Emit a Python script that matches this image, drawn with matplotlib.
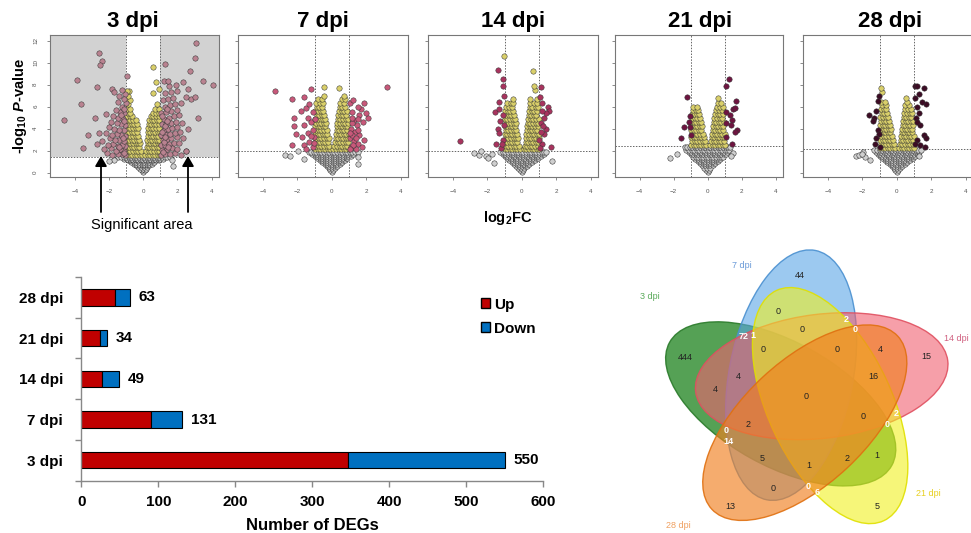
import matplotlib
matplotlib.use("Agg")
import matplotlib.pyplot as plt
from matplotlib.patches import Ellipse, Patch, FancyArrowPatch
import numpy as np

plt.rcParams['font.family'] = ['Liberation Sans', 'DejaVu Sans']
plt.rcParams['mathtext.fontset'] = 'custom'
plt.rcParams['mathtext.rm'] = 'Liberation Sans'
plt.rcParams['mathtext.it'] = 'Liberation Sans:italic'
plt.rcParams['mathtext.bf'] = 'Liberation Sans:bold'
plt.rcParams['mathtext.bfit'] = 'Liberation Sans:bold:italic'

# ================= data: volcano plots (log2FC, -log10 P) =================
PANELS = ['3 dpi', '7 dpi', '14 dpi', '21 dpi', '28 dpi']
THRESH = [1.45, 2.0, 2.0, 2.42, 2.15]

# rows of points: (y, [x, x, ...])
GREY_ROWS_3 = [(0.05, [0.0]), (0.2, [-0.1, 0.08]), (0.35, [-0.18, 0.0, 0.15]), (0.5, [-0.3, -0.12, 0.05, 0.22]),
               (0.65, [-0.4, -0.25, -0.1, 0.05, 0.2, 0.35]),
               (0.8, [-0.55, -0.4, -0.25, -0.1, 0.05, 0.2, 0.35, 0.5]),
               (0.95, [-0.7, -0.55, -0.4, -0.25, -0.1, 0.05, 0.2, 0.35, 0.5, 0.65]),
               (1.1, [-0.9, -0.75, -0.6, -0.45, -0.3, -0.15, 0.0, 0.15, 0.3, 0.45, 0.6, 0.75, 0.9]),
               (1.25, [-1.1, -0.95, -0.8, -0.65, -0.5, -0.35, -0.2, -0.05, 0.1, 0.25, 0.4, 0.55, 0.7, 0.85, 1.0, 1.15]),
               (1.38, [-1.45, -1.3, -1.15, -1.0, -0.85, -0.7, -0.55, -0.4, -0.25, -0.1, 0.05, 0.2, 0.35, 0.5, 0.65,
                       0.8, 0.95, 1.1, 1.25, 1.4, 1.55]),
               (1.15, [-1.7, 1.7]), (1.05, [-2.0]), (0.6, [1.75])]
YEL_ROWS_3 = [(1.6, [-0.95, -0.8, -0.65, -0.5, -0.35, -0.2, -0.08, 0.1, 0.25, 0.4, 0.55, 0.7, 0.85, 0.98]),
              (1.95, [-0.9, -0.75, -0.6, -0.45, -0.3, -0.15, 0.18, 0.33, 0.48, 0.63, 0.78, 0.93]),
              (2.3, [-0.97, -0.82, -0.67, -0.52, -0.37, -0.22, 0.2, 0.35, 0.5, 0.65, 0.8, 0.95]),
              (2.65, [-0.9, -0.75, -0.6, -0.45, -0.3, -0.17, 0.25, 0.4, 0.55, 0.7, 0.85, 0.98]),
              (3.0, [-0.97, -0.82, -0.67, -0.52, -0.37, -0.23, 0.22, 0.37, 0.52, 0.67, 0.82, 0.95]),
              (3.35, [-0.9, -0.75, -0.6, -0.45, -0.3, 0.28, 0.43, 0.58, 0.73, 0.88]),
              (3.7, [-0.97, -0.82, -0.67, -0.52, -0.37, 0.25, 0.4, 0.55, 0.7, 0.85, 0.98]),
              (4.05, [-0.9, -0.75, -0.6, -0.45, -0.32, 0.3, 0.45, 0.6, 0.75, 0.9]),
              (4.4, [-0.97, -0.82, -0.67, -0.52, -0.38, 0.32, 0.47, 0.62, 0.77, 0.92]),
              (4.75, [-0.9, -0.75, -0.6, -0.45, 0.35, 0.5, 0.65, 0.8, 0.95]),
              (5.1, [-0.95, -0.8, -0.65, 0.45, 0.6, 0.75, 0.9]),
              (5.45, [-0.9, -0.75, 0.55, 0.75, 0.92]), (5.8, [-0.95, -0.8, 0.7, 0.9]), (6.2, [-0.9, 0.8]),
              (6.6, [-0.95, -0.8]), (7.0, [-0.9]), (7.2, [0.6]), (7.45, [-0.85, -0.97]), (7.6, [0.9]),
              (8.2, [0.75]), (9.6, [0.58])]
SIG_3 = [(-1.05,1.6),(-1.25,1.7),(-1.5,1.65),(-1.8,1.6),(-2.1,1.75),(-1.1,2.0),(-1.35,2.1),(-1.6,2.0),(-1.9,2.2),
         (-2.3,2.1),(-1.05,2.4),(-1.25,2.5),(-1.5,2.45),(-1.75,2.6),(-2.05,2.5),(-1.15,2.9),(-1.4,2.95),(-1.65,3.0),
         (-1.95,3.1),(-2.4,2.9),(-1.05,3.35),(-1.3,3.4),(-1.55,3.5),(-1.85,3.45),(-2.2,3.6),(-1.15,3.85),(-1.4,3.9),
         (-1.7,4.0),(-2.0,4.1),(-1.05,4.3),(-1.3,4.4),(-1.55,4.5),(-1.9,4.6),(-1.2,4.9),(-1.45,5.0),(-1.75,5.1),
         (-1.1,5.4),(-1.35,5.5),(-1.6,5.7),(-1.25,6.0),(-1.0,6.3),(-1.5,6.4),(-1.4,7.0),(-1.8,7.6),(-1.7,7.3),
         (-0.97,8.8),(-2.4,10.1),(-2.5,9.8),(-2.6,10.9),(-2.7,7.8),(-3.9,8.4),(-3.64,6.2),(-2.83,5.0),(-4.64,4.8),
         (-3.2,3.4),(-2.6,3.6),(-3.55,2.2),(-2.7,2.6),(-2.2,5.3),(-1.15,1.8),(-1.4,2.3),(-1.2,3.15),(-1.1,4.65),
         (-1.3,5.2),(-1.15,5.75),(-1.05,7.1),(-1.25,7.5),(-1.1,6.7),
         (1.05,1.6),(1.3,1.7),(1.55,1.65),(1.85,1.75),(2.2,1.6),(2.5,2.0),(1.1,2.05),(1.4,2.1),(1.7,2.2),(2.0,2.15),
         (1.05,2.5),(1.25,2.55),(1.5,2.6),(1.8,2.65),(2.1,2.7),(1.15,3.0),(1.4,3.05),(1.65,3.1),(1.95,3.2),(2.3,3.1),
         (1.05,3.45),(1.3,3.5),(1.55,3.55),(1.85,3.6),(2.15,3.7),(1.2,3.9),(1.45,4.0),(1.7,4.05),(2.0,4.1),(2.6,4.0),
         (1.1,4.4),(1.35,4.45),(1.6,4.5),(1.9,4.6),(2.25,4.5),(1.2,4.9),(1.5,5.0),(1.8,5.1),(2.1,5.2),(1.05,5.4),
         (1.35,5.5),(1.65,5.6),(2.0,5.7),(1.25,6.0),(1.55,6.1),(1.85,6.2),(2.2,6.3),(1.15,6.6),(1.45,6.7),(1.75,6.8),
         (2.5,6.9),(2.8,6.7),(3.0,6.9),(1.3,7.2),(1.65,7.3),(2.0,7.4),(2.6,7.6),(1.5,7.9),(1.9,8.0),(1.2,8.3),
         (2.3,8.2),(3.5,8.3),(4.1,8.0),(1.46,8.3),(1.27,9.9),(2.75,9.2),(3.0,10.4),(3.1,11.8),(3.2,5.0),(2.5,2.0),
         (1.15,1.85),(1.45,2.35),(1.2,2.75),(1.3,3.25),(1.1,3.7),(1.25,4.2),(1.4,4.7),(1.1,5.15),(1.4,5.75)]

GREY_ROWS_7 = [(0.05, [0.0]), (0.22, [-0.08, 0.08]), (0.4, [-0.18, 0.0, 0.16]),
               (0.58, [-0.3, -0.14, 0.02, 0.18, 0.32]), (0.76, [-0.42, -0.27, -0.12, 0.03, 0.18, 0.33, 0.46]),
               (0.94, [-0.55, -0.4, -0.25, -0.1, 0.05, 0.2, 0.35, 0.5, 0.6]),
               (1.12, [-0.7, -0.55, -0.4, -0.25, -0.1, 0.05, 0.2, 0.35, 0.5, 0.65, 0.75]),
               (1.3, [-0.85, -0.7, -0.55, -0.4, -0.25, -0.1, 0.05, 0.2, 0.35, 0.5, 0.65, 0.8, 0.9]),
               (1.48, [-1.0, -0.85, -0.7, -0.55, -0.4, -0.25, -0.1, 0.05, 0.2, 0.35, 0.5, 0.65, 0.8, 0.95, 1.1]),
               (1.66, [-1.15, -1.0, -0.85, -0.7, -0.55, -0.4, -0.25, -0.1, 0.05, 0.2, 0.35, 0.5, 0.65, 0.8, 0.95,
                       1.1, 1.25]),
               (1.84, [-1.35, -1.2, -1.05, -0.9, -0.75, -0.6, -0.45, -0.3, -0.15, 0.0, 0.15, 0.3, 0.45, 0.6, 0.75,
                       0.9, 1.05, 1.2, 1.35, 1.5]),
               (1.57, [-2.72]), (1.5, [-2.45]), (1.95, [-1.95]), (1.2, [-1.6]), (0.8, [1.55]), (1.4, [1.5])]
YEL_ROWS_7 = [(2.1, [-0.97, -0.82, -0.67, -0.52, -0.37, -0.22, -0.08, 0.1, 0.25, 0.4, 0.55, 0.7, 0.85, 0.98]),
              (2.45, [-0.9, -0.75, -0.6, -0.45, -0.3, -0.15, 0.15, 0.3, 0.45, 0.6, 0.75, 0.9]),
              (2.8, [-0.97, -0.82, -0.67, -0.52, -0.37, -0.22, 0.2, 0.35, 0.5, 0.65, 0.8, 0.95]),
              (3.15, [-0.9, -0.75, -0.6, -0.45, -0.3, -0.18, 0.22, 0.37, 0.52, 0.67, 0.82, 0.97]),
              (3.5, [-0.97, -0.82, -0.67, -0.52, -0.37, -0.25, 0.25, 0.4, 0.55, 0.7, 0.85, 0.98]),
              (3.85, [-0.9, -0.75, -0.6, -0.45, -0.3, 0.28, 0.43, 0.58, 0.73, 0.88]),
              (4.2, [-0.97, -0.82, -0.67, -0.52, -0.37, 0.3, 0.45, 0.6, 0.75, 0.9]),
              (4.55, [-0.9, -0.75, -0.6, -0.45, -0.33, 0.33, 0.48, 0.63, 0.78, 0.93]),
              (4.9, [-0.95, -0.8, -0.65, -0.5, -0.38, 0.35, 0.5, 0.65, 0.8, 0.95]),
              (5.25, [-0.88, -0.73, -0.58, -0.43, 0.38, 0.53, 0.68, 0.83]),
              (5.6, [-0.95, -0.8, -0.65, -0.5, 0.42, 0.57, 0.72, 0.88]),
              (5.95, [-0.88, -0.72, -0.57, 0.45, 0.6, 0.78]), (6.3, [-0.9, -0.7, -0.5, 0.5, 0.7]),
              (6.7, [-0.8, -0.55, 0.6, 0.75]), (7.0, [-0.45, 0.7]), (7.8, [-0.48]), (7.7, [0.44])]
SIG_7 = [(-3.3,7.4),(-2.3,6.7),(-1.63,6.9),(-1.19,7.6),(-2.2,5.0),(-2.2,4.2),(-2.1,3.5),(-2.3,2.5),(-1.8,5.6),
         (-1.5,5.9),(-1.3,6.2),(-1.1,5.5),(-1.4,5.0),(-1.2,4.6),(-1.6,4.3),(-1.1,3.9),(-1.4,3.6),(-1.05,3.2),
         (-1.3,2.8),(-1.6,2.5),(-1.1,2.3),(-1.5,2.1),(-1.75,3.2),(-1.0,4.9),(-1.2,3.3),(-1.05,2.7),
         (3.2,7.8),(1.9,6.3),(2.08,5.0),(1.7,5.8),(1.5,6.0),(1.2,5.5),(1.3,4.8),(1.05,6.3),(1.25,6.6),(1.6,5.2),
         (1.8,4.6),(1.45,4.3),(1.1,4.0),(1.35,3.7),(1.6,3.4),(1.05,3.1),(1.3,2.9),(1.55,2.6),(1.1,2.3),(1.4,2.1),
         (1.75,2.3),(1.9,3.0),(1.2,3.4),(1.5,4.9),(2.0,5.4),(1.15,4.5),(1.4,3.15),(1.25,2.5),(1.05,3.6),(1.55,3.9),
         (1.2,5.0),(1.05,2.15)]

GREY_ROWS_14 = [(0.05, [0.0]), (0.22, [-0.1, 0.06]), (0.4, [-0.2, -0.02, 0.15]),
                (0.58, [-0.32, -0.16, 0.0, 0.16, 0.3]), (0.76, [-0.45, -0.3, -0.15, 0.0, 0.15, 0.3, 0.44]),
                (0.94, [-0.58, -0.43, -0.28, -0.13, 0.02, 0.17, 0.32, 0.47, 0.6]),
                (1.12, [-0.72, -0.57, -0.42, -0.27, -0.12, 0.03, 0.18, 0.33, 0.48, 0.63, 0.75]),
                (1.3, [-0.85, -0.7, -0.55, -0.4, -0.25, -0.1, 0.05, 0.2, 0.35, 0.5, 0.65, 0.8, 0.92]),
                (1.48, [-0.98, -0.83, -0.68, -0.53, -0.38, -0.23, -0.08, 0.07, 0.22, 0.37, 0.52, 0.67, 0.82, 0.97,
                        1.1]),
                (1.66, [-1.1, -0.95, -0.8, -0.65, -0.5, -0.35, -0.2, -0.05, 0.1, 0.25, 0.4, 0.55, 0.7, 0.85, 1.0,
                        1.15, 1.28]),
                (1.84, [-1.25, -1.1, -0.95, -0.8, -0.65, -0.5, -0.35, -0.2, -0.05, 0.1, 0.25, 0.4, 0.55, 0.7, 0.85,
                        1.0, 1.15, 1.3, 1.42]),
                (1.8, [-2.75]), (1.6, [-2.46]), (1.5, [-2.08]), (1.3, [-1.98]), (1.7, [-1.73]), (2.0, [-2.35]),
                (0.9, [-1.6]), (1.06, [1.77])]
YEL_ROWS_14 = [(2.1, [-1.0, -0.85, -0.7, -0.55, -0.4, -0.25, -0.1, 0.12, 0.27, 0.42, 0.57, 0.72, 0.87, 1.0]),
               (2.45, [-0.93, -0.78, -0.63, -0.48, -0.33, -0.18, 0.17, 0.32, 0.47, 0.62, 0.77, 0.92]),
               (2.8, [-1.0, -0.85, -0.7, -0.55, -0.4, -0.25, 0.22, 0.37, 0.52, 0.67, 0.82, 0.97]),
               (3.15, [-0.93, -0.78, -0.63, -0.48, -0.33, -0.2, 0.25, 0.4, 0.55, 0.7, 0.85, 1.0]),
               (3.5, [-1.0, -0.85, -0.7, -0.55, -0.4, -0.27, 0.27, 0.42, 0.57, 0.72, 0.87, 0.98]),
               (3.85, [-0.93, -0.78, -0.63, -0.48, -0.33, 0.3, 0.45, 0.6, 0.75, 0.9]),
               (4.2, [-1.0, -0.85, -0.7, -0.55, -0.4, 0.32, 0.47, 0.62, 0.77, 0.92]),
               (4.55, [-0.93, -0.78, -0.63, -0.48, -0.35, 0.35, 0.5, 0.65, 0.8, 0.95]),
               (4.9, [-0.98, -0.83, -0.68, -0.53, -0.4, 0.38, 0.53, 0.68, 0.83, 0.98]),
               (5.25, [-0.9, -0.75, -0.6, -0.45, 0.4, 0.55, 0.7, 0.85]),
               (5.6, [-0.97, -0.82, -0.67, -0.52, 0.43, 0.58, 0.73, 0.9]),
               (5.95, [-0.9, -0.72, -0.57, 0.47, 0.62, 0.8, 0.97]), (6.3, [-0.85, -0.65, -0.5, 0.5, 0.7, 0.88]),
               (6.7, [-0.5, 0.5, 0.9]), (7.5, [0.77]), (7.9, [0.71]), (9.2, [0.65]), (10.6, [-1.02])]
SIG_14 = [(-1.4,9.3),(-1.08,8.5),(-1.08,7.9),(-1.05,7.0),(-1.54,5.5),(-1.35,6.4),(-1.1,5.2),(-1.4,4.0),(-1.35,3.6),
          (-1.5,2.6),(-1.2,2.2),(-3.6,2.9),(-1.25,4.7),(-1.1,3.0),(-1.3,5.8),(-1.15,2.6),(-1.05,4.3),
          (1.1,7.8),(1.05,6.9),(1.54,6.0),(1.6,5.6),(1.3,5.0),(1.1,4.5),(1.42,4.0),(1.3,3.5),(1.67,2.3),(1.2,2.6),
          (1.0,3.0),(1.15,6.3),(1.4,5.4),(1.08,2.2),(1.25,4.2),(1.1,3.7),(1.15,5.6)]

GREY_ROWS_21 = [(0.05, [0.0]), (0.25, [-0.08, 0.08]), (0.45, [-0.2, -0.02, 0.16]),
                (0.65, [-0.32, -0.16, 0.0, 0.16, 0.3]), (0.85, [-0.45, -0.3, -0.15, 0.0, 0.15, 0.3, 0.44]),
                (1.05, [-0.58, -0.43, -0.28, -0.13, 0.02, 0.17, 0.32, 0.47, 0.6]),
                (1.25, [-0.72, -0.57, -0.42, -0.27, -0.12, 0.03, 0.18, 0.33, 0.48, 0.63, 0.75]),
                (1.45, [-0.86, -0.71, -0.56, -0.41, -0.26, -0.11, 0.04, 0.19, 0.34, 0.49, 0.64, 0.79, 0.9]),
                (1.65, [-1.0, -0.85, -0.7, -0.55, -0.4, -0.25, -0.1, 0.05, 0.2, 0.35, 0.5, 0.65, 0.8, 0.95, 1.05]),
                (1.85, [-1.12, -0.97, -0.82, -0.67, -0.52, -0.37, -0.22, -0.07, 0.08, 0.23, 0.38, 0.53, 0.68, 0.83,
                        0.98, 1.12]),
                (2.05, [-1.25, -1.1, -0.95, -0.8, -0.65, -0.5, -0.35, -0.2, -0.05, 0.1, 0.25, 0.4, 0.55, 0.7, 0.85,
                        1.0, 1.15, 1.28]),
                (2.28, [-1.35, -1.2, -1.05, -0.9, -0.75, -0.6, -0.45, -0.3, -0.15, 0.0, 0.15, 0.3, 0.45, 0.6, 0.75,
                        0.9, 1.05, 1.2, 1.32]),
                (1.33, [-2.23]), (1.7, [-1.81]), (1.8, [1.5]), (1.5, [1.35])]
YEL_ROWS_21 = [(2.5, [-0.97, -0.82, -0.67, -0.52, -0.37, -0.22, -0.1, 0.15, 0.3, 0.45, 0.6, 0.75, 0.9, 1.03]),
               (2.85, [-0.9, -0.75, -0.6, -0.45, -0.3, -0.17, 0.2, 0.35, 0.5, 0.65, 0.8, 0.95]),
               (3.2, [-0.97, -0.82, -0.67, -0.52, -0.37, -0.24, 0.23, 0.38, 0.53, 0.68, 0.83, 0.98]),
               (3.55, [-0.9, -0.75, -0.6, -0.45, -0.3, 0.26, 0.41, 0.56, 0.71, 0.86, 1.0]),
               (3.9, [-0.97, -0.82, -0.67, -0.52, -0.37, 0.3, 0.45, 0.6, 0.75, 0.9]),
               (4.25, [-0.9, -0.75, -0.6, -0.45, -0.35, 0.33, 0.48, 0.63, 0.78, 0.93]),
               (4.6, [-0.97, -0.82, -0.67, -0.52, -0.4, 0.36, 0.51, 0.66, 0.81, 0.96]),
               (4.95, [-0.9, -0.75, -0.6, -0.45, 0.4, 0.55, 0.7, 0.85]),
               (5.3, [-0.95, -0.8, -0.65, -0.5, 0.45, 0.6, 0.75, 0.9]),
               (5.65, [-0.88, -0.7, -0.55, 0.5, 0.65, 0.82]), (6.0, [-0.84, -0.65, 0.55, 0.75, 0.92]),
               (6.35, [0.6, 0.8]), (6.8, [0.63])]
SIG_21 = [(-1.22,6.9),(-1.03,5.1),(-1.1,4.6),(-1.37,4.15),(-1.05,4.1),(-1.55,3.1),(-1.0,3.4),
          (1.24,8.5),(1.07,7.85),(1.68,6.5),(1.49,5.8),(1.6,5.9),(1.3,5.2),(1.1,5.5),(1.45,4.8),(1.72,3.9),(1.6,3.7),
          (1.36,4.3),(1.07,3.2),(1.43,2.6),(1.05,4.5)]

GREY_ROWS_28 = [(0.05, [0.0]), (0.22, [-0.08, 0.08]), (0.4, [-0.18, 0.0, 0.16]),
                (0.58, [-0.3, -0.14, 0.02, 0.18, 0.32]), (0.76, [-0.42, -0.27, -0.12, 0.03, 0.18, 0.33, 0.46]),
                (0.94, [-0.55, -0.4, -0.25, -0.1, 0.05, 0.2, 0.35, 0.5, 0.62]),
                (1.12, [-0.7, -0.55, -0.4, -0.25, -0.1, 0.05, 0.2, 0.35, 0.5, 0.65, 0.76]),
                (1.3, [-0.84, -0.69, -0.54, -0.39, -0.24, -0.09, 0.06, 0.21, 0.36, 0.51, 0.66, 0.81, 0.92]),
                (1.48, [-0.98, -0.83, -0.68, -0.53, -0.38, -0.23, -0.08, 0.07, 0.22, 0.37, 0.52, 0.67, 0.82, 0.97,
                        1.08]),
                (1.66, [-1.1, -0.95, -0.8, -0.65, -0.5, -0.35, -0.2, -0.05, 0.1, 0.25, 0.4, 0.55, 0.7, 0.85, 1.0,
                        1.15]),
                (1.84, [-1.2, -1.05, -0.9, -0.75, -0.6, -0.45, -0.3, -0.15, 0.0, 0.15, 0.3, 0.45, 0.6, 0.75, 0.9,
                        1.05, 1.2, 1.3]),
                (2.02, [-1.3, -1.15, -1.0, -0.85, -0.7, -0.55, -0.4, -0.25, -0.1, 0.05, 0.2, 0.35, 0.5, 0.65, 0.8,
                        0.95, 1.1, 1.25, 1.38]),
                (1.5, [-2.36]), (1.6, [-2.2]), (1.9, [-1.98]), (1.4, [-1.85]), (1.1, [-1.53]), (1.7, [-2.05]),
                (1.5, [1.3])]
YEL_ROWS_28 = [(2.25, [-0.97, -0.82, -0.67, -0.52, -0.37, -0.22, -0.1, 0.13, 0.28, 0.43, 0.58, 0.73, 0.88, 1.02]),
               (2.6, [-0.9, -0.75, -0.6, -0.45, -0.3, -0.17, 0.18, 0.33, 0.48, 0.63, 0.78, 0.93]),
               (2.95, [-0.97, -0.82, -0.67, -0.52, -0.37, -0.24, 0.22, 0.37, 0.52, 0.67, 0.82, 0.97]),
               (3.3, [-0.9, -0.75, -0.6, -0.45, -0.3, 0.25, 0.4, 0.55, 0.7, 0.85, 1.0]),
               (3.65, [-0.97, -0.82, -0.67, -0.52, -0.37, 0.28, 0.43, 0.58, 0.73, 0.88]),
               (4.0, [-0.9, -0.75, -0.6, -0.45, -0.33, 0.31, 0.46, 0.61, 0.76, 0.91]),
               (4.35, [-0.97, -0.82, -0.67, -0.52, -0.38, 0.34, 0.49, 0.64, 0.79, 0.94]),
               (4.7, [-0.9, -0.75, -0.6, -0.45, 0.37, 0.52, 0.67, 0.82, 0.97]),
               (5.05, [-0.95, -0.8, -0.65, -0.5, 0.4, 0.55, 0.7, 0.85]),
               (5.4, [-0.88, -0.72, -0.57, 0.44, 0.6, 0.75, 0.9]), (5.75, [-0.92, -0.75, -0.6, 0.48, 0.65, 0.82]),
               (6.1, [-0.85, -0.65, 0.5, 0.72]), (6.45, [-0.9, -0.7, 0.58]), (6.8, [0.56]), (7.3, [-0.85]),
               (7.7, [-0.92])]
SIG_28 = [(-1.06,7.0),(-1.1,6.5),(-1.59,5.2),(-1.35,5.0),(-1.2,5.6),(-1.1,3.9),(-1.05,3.5),(-1.25,2.6),(-1.0,2.3),
          (-1.4,4.7),(-1.2,3.1),
          (1.04,7.9),(1.19,7.85),(1.57,7.7),(1.3,7.1),(1.05,6.8),(1.67,6.2),(1.45,6.4),(1.2,6.0),(1.3,5.4),(1.1,5.0),
          (1.35,4.3),(1.57,3.4),(1.71,3.15),(1.2,3.0),(1.35,2.5),(1.63,2.3),(1.05,2.6),(1.15,4.6)]

GREY_ROWS = [GREY_ROWS_3, GREY_ROWS_7, GREY_ROWS_14, GREY_ROWS_21, GREY_ROWS_28]
YEL_ROWS = [YEL_ROWS_3, YEL_ROWS_7, YEL_ROWS_14, YEL_ROWS_21, YEL_ROWS_28]
SIGS = [SIG_3, SIG_7, SIG_14, SIG_21, SIG_28]
SIG_COLORS = ['#b98290', '#c8587a', '#a8335e', '#6e1440', '#3c0c24']

# ================= data: bar chart =================
BAR_CATS = ['3 dpi', '7 dpi', '14 dpi', '21 dpi', '28 dpi']
BAR_UP = [347, 90, 27, 24, 44]
BAR_DOWN = [203, 41, 22, 10, 19]
BAR_TOTAL = [550, 131, 49, 34, 63]

# ================= data: Venn =================
VENN_SETS = ['14 dpi', '7 dpi', '3 dpi', '28 dpi', '21 dpi']
VENN_COUNTS = [44, 0, 2, 0, 0, 72, 1, 0, 0, 4, 15, 444, 4, 16, 4, 0, 2, 0, 2, 0, 0, 14, 5, 1, 2, 1, 0, 0, 6, 13, 5]


def expand(rows):
    return np.array([(x, y) for y, xs in rows for x in xs])


# ================= layout =================
W, H = 971, 533
fig = plt.figure(figsize=(W / 100, H / 100), dpi=100)


def rect(x0, y0, x1, y1):
    return [x0 / W, 1 - y1 / H, (x1 - x0) / W, (y1 - y0) / H]


VOLC_X = [(50, 219), (238, 408), (428, 598), (615, 783), (803, 973)]
TITLE_X = [133, 323, 513, 700, 890]
XL = (-5.45, 4.43)
YL = (-0.4, 12.5)
MS = 15

for i in range(5):
    x0, x1 = VOLC_X[i]
    ax = fig.add_axes(rect(x0, 35, x1, 177))
    ax.set_xlim(*XL)
    ax.set_ylim(*YL)
    thr = THRESH[i]
    if i == 0:
        ax.fill_between([XL[0], -1], thr, YL[1], color='#d2d2d2', lw=0, zorder=0)
        ax.fill_between([1, XL[1]], thr, YL[1], color='#d2d2d2', lw=0, zorder=0)
    ax.axhline(thr, color='#666666', ls=(0, (1.5, 1.5)), lw=0.7, zorder=1)
    ax.axvline(-1, color='#666666', ls=(0, (1.5, 1.5)), lw=0.7, zorder=1)
    ax.axvline(1, color='#666666', ls=(0, (1.5, 1.5)), lw=0.7, zorder=1)
    g = expand(GREY_ROWS[i])
    y = expand(YEL_ROWS[i])
    s = np.array(SIGS[i])
    ax.scatter(g[:, 0], g[:, 1], s=MS, c='#cfcfcf', edgecolors='#222222', linewidths=0.35, zorder=2)
    ax.scatter(y[:, 0], y[:, 1], s=MS, c='#d9cf6a', edgecolors='#333333', linewidths=0.35, zorder=3)
    ax.scatter(s[:, 0], s[:, 1], s=MS, c=SIG_COLORS[i], edgecolors='#333333', linewidths=0.35, zorder=4)
    for sp in ax.spines.values():
        sp.set_color('#777777')
        sp.set_linewidth(0.8)
    ax.set_xticks([-4, -2, 0, 2, 4])
    ax.set_yticks([0, 2, 4, 6, 8, 10, 12])
    ax.tick_params(length=2.5, width=0.6, color='#777777', labelsize=4.5, labelcolor='#555555', pad=6)
    if i == 0:
        for lab in ax.get_yticklabels():
            lab.set_rotation(90)
            lab.set_va('center')
        ax.set_ylabel(r'-log$_{\mathbf{10}}$ $\mathbfit{P}$-value', fontsize=10.5, fontweight='bold', labelpad=3)
    else:
        ax.set_yticklabels([])
    fig.text(TITLE_X[i] / W, 1 - 21 / H, PANELS[i], ha='center', va='center', fontsize=16, fontweight='bold')

fig.text(508 / W, 1 - 218 / H, r'log$_{\mathbf{2}}$FC', ha='center', va='center', fontsize=10.5, fontweight='bold')
fig.text(142 / W, 1 - 225 / H, 'Significant area', ha='center', va='center', fontsize=10.5)
for ax_x in (101, 188):
    fig.add_artist(FancyArrowPatch(
        (ax_x / W, 1 - 212 / H), (ax_x / W, 1 - 156 / H), transform=fig.transFigure,
        arrowstyle='-|>,head_length=6,head_width=3.5', color='black', lw=1.3, shrinkA=0, shrinkB=0))

# ================= bar chart =================
bx = fig.add_axes(rect(81.3, 277, 543.3, 480.7))
ypos = np.arange(len(BAR_CATS))
bx.barh(ypos, BAR_UP, height=0.4, color='#c00000', edgecolor='black', linewidth=0.8, label='Up')
bx.barh(ypos, BAR_DOWN, left=BAR_UP, height=0.4, color='#0070c0', edgecolor='black', linewidth=0.8, label='Down')
for yy, tot in zip(ypos, BAR_TOTAL):
    bx.text(tot + 11, yy, str(tot), va='center', ha='left', fontsize=11, fontweight='bold')
bx.set_xlim(0, 600)
bx.set_ylim(-0.5, 4.5)
bx.set_xticks(range(0, 601, 100))
bx.set_yticks(ypos)
bx.set_yticklabels(BAR_CATS)
bx.set_yticks(np.arange(-0.5, 4.6, 1.0), minor=True)
bx.tick_params(axis='y', which='major', length=0, pad=13)
bx.tick_params(axis='y', which='minor', length=4, color='#888888', width=1)
bx.tick_params(axis='x', length=4, color='#888888', width=1, pad=6)
for lab in bx.get_xticklabels() + bx.get_yticklabels():
    lab.set_fontsize(11)
    lab.set_fontweight('bold')
bx.spines['top'].set_visible(False)
bx.spines['right'].set_visible(False)
for side in ('left', 'bottom'):
    bx.spines[side].set_color('#888888')
    bx.spines[side].set_linewidth(1)
bx.set_xlabel('Number of DEGs', fontsize=12, fontweight='bold', labelpad=7)
bx.legend(handles=[Patch(facecolor='#c00000', edgecolor='black', label='Up'),
                   Patch(facecolor='#0070c0', edgecolor='black', label='Down')],
          loc='upper left', bbox_to_anchor=(473 / W, 1 - 290 / H), bbox_transform=fig.transFigure,
          frameon=False, borderpad=0, handlelength=0.6, handleheight=0.6, handletextpad=0.25,
          labelspacing=0.65, prop={'weight': 'bold', 'size': 11})

# ================= Venn =================
vx = fig.add_axes(rect(636, 240, 971, 533))
vx.set_xlim(636, 971)
vx.set_ylim(0, 293)
vx.axis('off')
CX, CY = 805.7, 533 - 396.7
A_SEMI, B_SEMI, R_OFF = 127, 62, 26
BASE_T, BASE_P = 7.0, 52.0
VENN_FACE = ['#f06070', '#5aa5e6', '#2a8a2a', '#f08020', '#f0f020']
VENN_ALPHA = [0.6, 0.6, 0.8, 0.65, 0.6]
VENN_EDGE = ['#e05060', '#4a90d0', '#2a7a2a', '#e07010', '#e0e000']
VENN_DRAW_ORDER = [2, 1, 0, 4, 3]
for k in VENN_DRAW_ORDER:
    th = BASE_T + 72 * k
    ph = np.deg2rad(BASE_P + 72 * k)
    cen = (CX + R_OFF * np.cos(ph), CY + R_OFF * np.sin(ph))
    vx.add_patch(Ellipse(cen, 2 * A_SEMI, 2 * B_SEMI, angle=th, facecolor=VENN_FACE[k], alpha=VENN_ALPHA[k],
                         edgecolor='none'))
    vx.add_patch(Ellipse(cen, 2 * A_SEMI, 2 * B_SEMI, angle=th, facecolor='none', edgecolor=VENN_EDGE[k],
                         lw=1.0, alpha=0.9))

VENN_POS = [(800, 275), (778.3, 311.7), (846.7, 320), (855, 330), (802.3, 329.3), (743.3, 336.7), (753.3, 335),
            (762.7, 349.3), (836.7, 350), (880, 350), (926.7, 356.7), (685.7, 357.3), (738.3, 376.7), (873.3, 376.7),
            (715, 390), (805.7, 396.7), (896.7, 413.3), (863.3, 416.7), (748.3, 424.3), (886.7, 424.3), (726, 430.7),
            (728.3, 441.7), (761.7, 458.3), (809.3, 465), (846.7, 458.3), (876.7, 455), (772.7, 488.3), (807.7, 486.7),
            (816.7, 492.3), (730, 506.7), (876.7, 506.7)]
VENN_WHITE = [2, 3, 5, 6, 16, 19, 20, 21, 27, 28]
for j, (cnt, (px, py)) in enumerate(zip(VENN_COUNTS, VENN_POS)):
    white = j in VENN_WHITE
    vx.text(px, 533 - py, str(cnt), ha='center', va='center', fontsize=6.5,
            color='white' if white else '#222222', fontweight='bold' if white else 'normal')

VENN_LABEL_POS = [(956.7, 338.3), (741.7, 266), (650, 296.5), (678.3, 526), (928.3, 493.3)]
VENN_LABEL_COL = ['#d06080', '#6a9ad8', '#5aaa5a', '#f0a060', '#e8d020']
for name, (px, py), col in zip(VENN_SETS, VENN_LABEL_POS, VENN_LABEL_COL):
    vx.text(px, 533 - py, name, ha='center', va='center', fontsize=6.5, color=col)

fig.savefig('out.png', dpi=100)
